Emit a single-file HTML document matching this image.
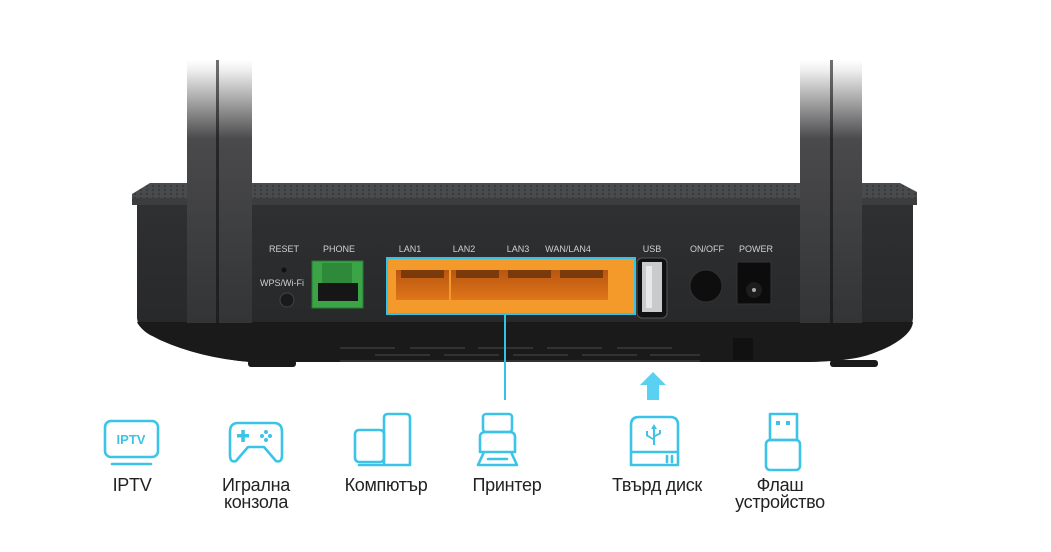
<!DOCTYPE html>
<html><head><meta charset="utf-8"><style>
html,body{margin:0;padding:0;background:#fff;}
svg{display:block}
</style></head><body>
<svg width="1051" height="552" viewBox="0 0 1051 552" xmlns="http://www.w3.org/2000/svg" font-family="Liberation Sans, sans-serif">
<defs>
<linearGradient id="face" x1="0" y1="0" x2="0" y2="1"><stop offset="0" stop-color="#2f3032"/><stop offset="1" stop-color="#252628"/></linearGradient>
<linearGradient id="ant" x1="0" y1="60" x2="0" y2="323" gradientUnits="userSpaceOnUse"><stop offset="0" stop-color="#ffffff"/><stop offset="0.04" stop-color="#eeeeee"/><stop offset="0.3" stop-color="#4a4a4c"/><stop offset="1" stop-color="#333436"/></linearGradient>
<linearGradient id="port" x1="0" y1="0" x2="0" y2="1"><stop offset="0" stop-color="#b85510"/><stop offset="1" stop-color="#e0761a"/></linearGradient>
<pattern id="dots" width="6" height="4" patternUnits="userSpaceOnUse"><rect width="6" height="4" fill="#4a4b4d"/><circle cx="3" cy="2" r="1.2" fill="#3a3b3d"/></pattern>
</defs>
<rect width="1051" height="552" fill="#fff"/>
<!-- body -->
<path d="M137 205 H913 V318 Q912 330 900 335 L880 350 Q860 362 800 362 H250 Q200 358 150 335 Q138 328 137 318Z" fill="url(#face)"/>
<path d="M137 322 H913 Q912 334 890 346 Q860 362 800 362 H250 Q200 358 160 340 Q140 330 137 322Z" fill="#1a1a1b"/>
<rect x="248" y="360" width="48" height="7" rx="3" fill="#1a1a1b"/>
<rect x="830" y="360" width="48" height="7" rx="3" fill="#1a1a1b"/>
<path d="M150 183 H900 L917 192 V200 Q915 205 908 205 H140 Q132 205 132 198 V194Z" fill="url(#dots)"/>
<rect x="132" y="198" width="785" height="7" fill="#3c3d3f"/>
<!-- antennas -->
<rect x="187" y="60" width="65" height="263" fill="url(#ant)"/>
<rect x="216" y="60" width="3" height="263" fill="#111" opacity="0.6"/>
<rect x="800" y="60" width="62" height="263" fill="url(#ant)"/>
<rect x="830" y="60" width="3" height="263" fill="#111" opacity="0.6"/>
<!-- vents -->
<g stroke="#3a3b3d" stroke-width="1.5">
<line x1="340" y1="348" x2="395" y2="348"/><line x1="410" y1="348" x2="465" y2="348"/><line x1="478" y1="348" x2="533" y2="348"/><line x1="547" y1="348" x2="602" y2="348"/><line x1="617" y1="348" x2="672" y2="348"/>
<line x1="375" y1="355" x2="430" y2="355"/><line x1="444" y1="355" x2="499" y2="355"/><line x1="513" y1="355" x2="568" y2="355"/><line x1="582" y1="355" x2="637" y2="355"/><line x1="650" y1="355" x2="700" y2="355"/>
<line x1="340" y1="361" x2="700" y2="361"/>
</g>
<rect x="733" y="338" width="20" height="22" fill="#111"/>
<!-- labels -->
<g fill="#cfd0d2" font-size="9" text-anchor="middle">
<text x="284" y="252">RESET</text><text x="339" y="252">PHONE</text>
<text x="410" y="252">LAN1</text><text x="464" y="252">LAN2</text><text x="518" y="252">LAN3</text><text x="568" y="252">WAN/LAN4</text>
<text x="652" y="252">USB</text><text x="707" y="252">ON/OFF</text><text x="756" y="252">POWER</text>
<text x="282" y="286">WPS/Wi-Fi</text>
</g>
<circle cx="284" cy="270" r="2.5" fill="#111"/>
<circle cx="287" cy="300" r="7" fill="#1a1a1a" stroke="#444" stroke-width="1"/>
<!-- phone -->
<rect x="312" y="261" width="51" height="47" fill="#3aa447" stroke="#2a7a33"/>
<rect x="322" y="263" width="30" height="22" fill="#2e8a3a"/>
<rect x="318" y="283" width="40" height="18" fill="#161616"/>
<!-- LAN -->
<rect x="387" y="258" width="248" height="56" fill="#f39a2a" stroke="#36c1e6" stroke-width="2"/>
<g>
<rect x="396" y="270" width="53" height="30" fill="url(#port)"/>
<rect x="451" y="270" width="53" height="30" fill="url(#port)"/>
<rect x="503" y="270" width="53" height="30" fill="url(#port)"/>
<rect x="555" y="270" width="53" height="30" fill="url(#port)"/>
</g>
<g fill="#7a3a0c"><rect x="401" y="270" width="43" height="8"/><rect x="456" y="270" width="43" height="8"/><rect x="508" y="270" width="43" height="8"/><rect x="560" y="270" width="43" height="8"/></g>
<line x1="505" y1="314" x2="505" y2="400" stroke="#36c1e6" stroke-width="2"/>
<!-- USB -->
<rect x="637" y="258" width="30" height="60" rx="5" fill="#111" stroke="#555"/>
<rect x="642" y="262" width="20" height="50" fill="#c9cacc"/>
<rect x="646" y="266" width="6" height="42" fill="#e8e8e8"/>
<!-- on/off -->
<circle cx="706" cy="286" r="16" fill="#0e0e0f" stroke="#333"/>
<!-- power -->
<rect x="737" y="262" width="34" height="42" fill="#0c0c0d" stroke="#333"/>
<circle cx="754" cy="290" r="8" fill="#1d1d1e"/><circle cx="754" cy="290" r="2" fill="#aaa"/>
<!-- arrow -->
<path d="M640 385 L653 372 L666 385 H659 V400 H647 V385Z" fill="#5ad0f2"/>
<!-- icons -->
<g fill="none" stroke="#3cc4e8" stroke-width="2.6" stroke-linejoin="round" stroke-linecap="round">
<rect x="105" y="421" width="53" height="36" rx="6"/><line x1="112" y1="464" x2="151" y2="464"/>
<path d="M238 423 H274 Q282 423 282 432 V455 Q282 463 276 461 L264 447 H248 L236 461 Q230 463 230 455 V432 Q230 423 238 423Z"/>
<rect x="355" y="430" width="29" height="32" rx="4"/><path d="M384 465 V418 Q384 414 388 414 H406 Q410 414 410 418 V465 H359"/>
<rect x="483" y="414" width="29" height="18" rx="3"/><path d="M480 452 V437 Q480 432 486 432 H509 Q515 432 515 437 V452 H480 Z M484 452 L478 465 H517 L511 452"/><line x1="488" y1="459" x2="507" y2="459"/>
<path d="M631 452 V425 Q631 417 639 417 H670 Q678 417 678 425 V452 Z M631 452 V465 H678 V452"/>
<line x1="667" y1="456" x2="667" y2="462"/><line x1="672" y1="456" x2="672" y2="462"/>
<rect x="770" y="414" width="27" height="26"/><rect x="766" y="440" width="34" height="30" rx="4"/>
</g>
<g fill="#3cc4e8">
<text x="131" y="444" font-size="13" text-anchor="middle" font-weight="bold">IPTV</text>
<rect x="237" y="434" width="12" height="3.5"/><rect x="241.3" y="430" width="3.5" height="12"/>
<circle cx="266" cy="432" r="2"/><circle cx="266" cy="440" r="2"/><circle cx="262" cy="436" r="2"/><circle cx="270" cy="436" r="2"/>
<path d="M654 424 l-3 5 h2 v9 l-5 -3 v-4 h-2 v5 l7 4 v5 h2 v-8 l6 -3 v-4 h-2 v3 l-4 2 v-6 h2z"/>
<rect x="776" y="421" width="4" height="4"/><rect x="786" y="421" width="4" height="4"/>
</g>
<g fill="#222" font-size="18" text-anchor="middle" letter-spacing="-0.3">
<text x="132" y="491">IPTV</text>
<text x="256" y="491">Игрална</text><text x="256" y="508">конзола</text>
<text x="386" y="491">Компютър</text>
<text x="507" y="491">Принтер</text>
<text x="657" y="491">Твърд диск</text>
<text x="780" y="491">Флаш</text><text x="780" y="508">устройство</text>
</g>
</svg>
</body></html>
